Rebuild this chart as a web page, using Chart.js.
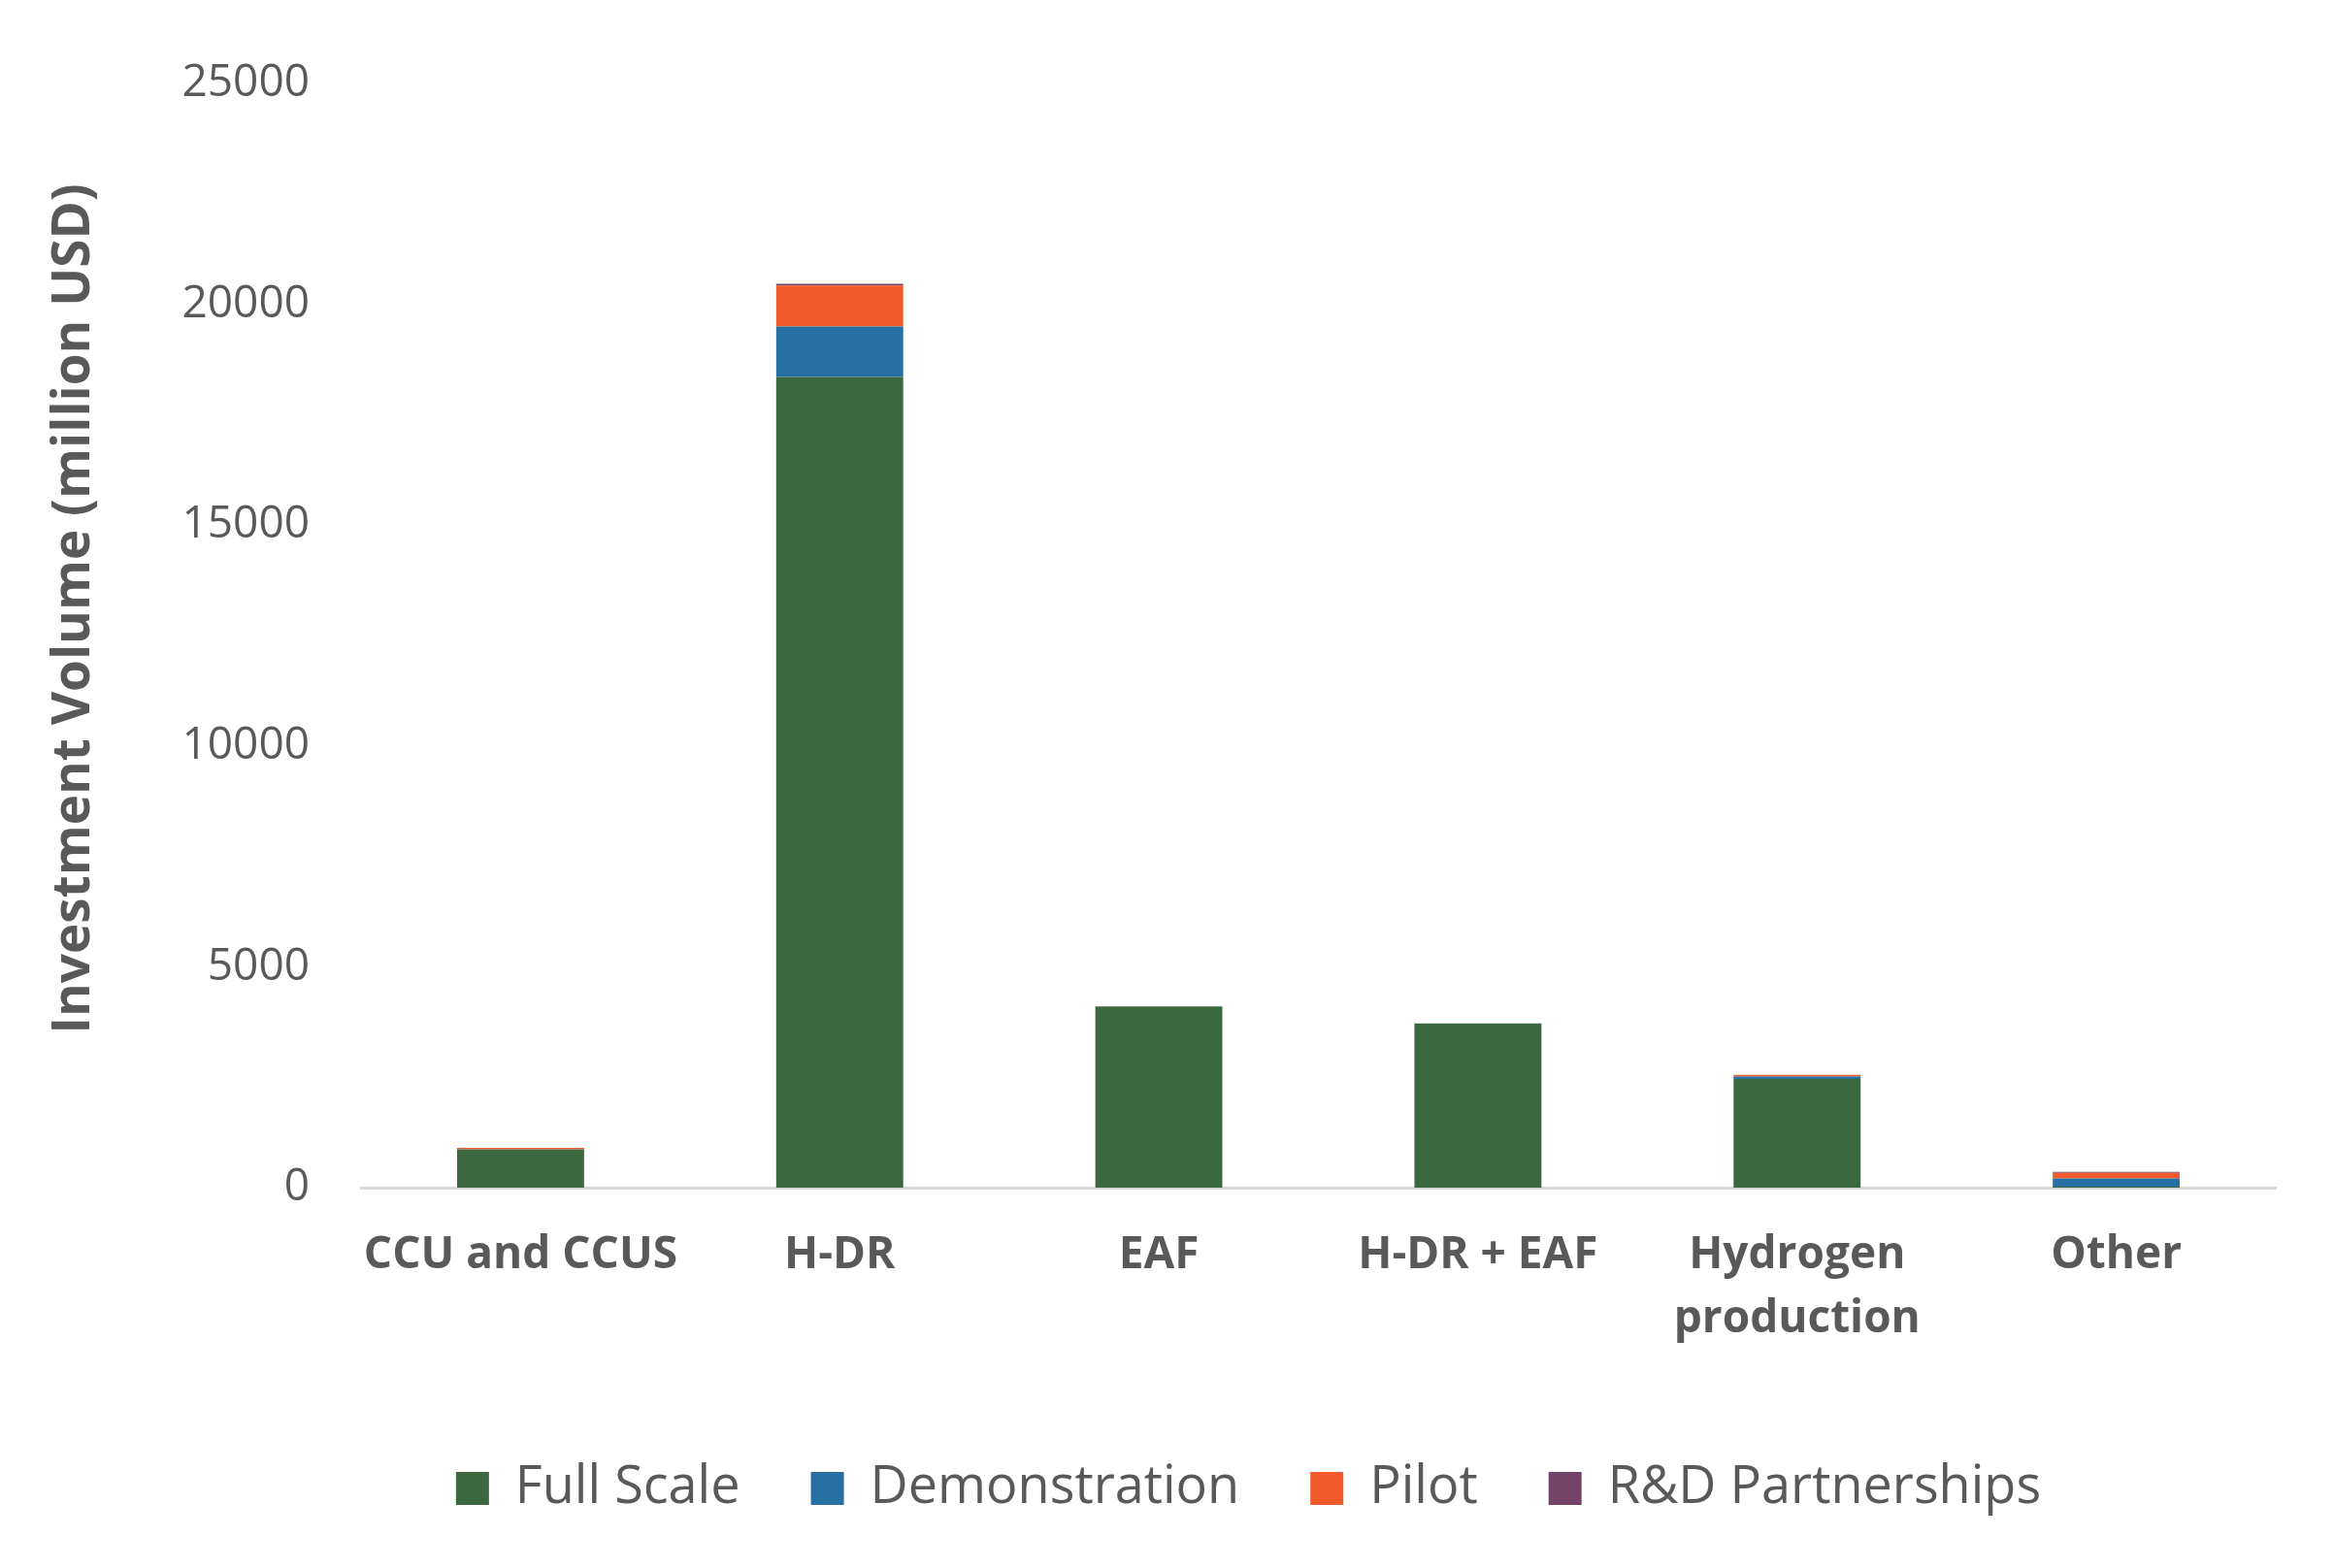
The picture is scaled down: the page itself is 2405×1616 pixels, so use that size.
<!DOCTYPE html>
<html>
<head>
<meta charset="utf-8">
<script src="https://cdn.jsdelivr.net/npm/chart.js@4/dist/chart.umd.min.js"></script>
<style>
  html, body { margin: 0; padding: 0; background: #fff; }
  canvas { display: block; }
</style>
</head>
<body>
<canvas id="investChart" width="2405" height="1616"></canvas>
<script>
const categories = ['CCU and CCUS', 'H-DR', 'EAF', 'H-DR + EAF', ['Hydrogen', 'production'], 'Other'];

// million USD
const fullScale     = [866, 18356, 4100, 3720, 2461, 20];
const demonstration = [0, 1139, 0, 0, 57, 190];
const pilot         = [37, 932, 0, 0, 37, 125];
const rdPartners    = [0, 37, 0, 0, 0, 22];

const yTicks = [0, 5000, 10000, 15000, 20000, 25000];

const textColor = '#595959';
const FONT = '"Open Sans", "Liberation Sans", sans-serif';

const ctx = document.getElementById('investChart').getContext('2d');

const chartConfig = {
    type: 'bar',
    data: {
        labels: categories,
        datasets: [
            { label: 'Full Scale', data: fullScale, backgroundColor: '#3b683e' },
            { label: 'Demonstration', data: demonstration, backgroundColor: '#2670a4' },
            { label: 'Pilot', data: pilot, backgroundColor: '#f15b2b' },
            { label: 'R&D Partnerships', data: rdPartners, backgroundColor: '#744468' }
        ]
    },
    options: {
        responsive: false,
        animation: false,
        layout: {
            padding: { top: 86, left: 168, right: 0, bottom: 45 }
        },
        datasets: {
            bar: { categoryPercentage: 1, barPercentage: 0.398 }
        },
        plugins: {
            tooltip: { enabled: false },
            legend: {
                position: 'bottom',
                labels: {
                    color: textColor,
                    font: { family: FONT, size: 54 },
                    boxWidth: 34,
                    boxHeight: 34,
                    padding: 73
                }
            }
        },
        scales: {
            x: {
                stacked: true,
                grid: { display: true, drawOnChartArea: false, drawTicks: false },
                border: { display: true, color: '#d9d9d9', width: 3 },
                ticks: {
                    color: textColor,
                    font: { family: FONT, size: 46, weight: 'bold', lineHeight: 1.43 },
                    padding: 37,
                    maxRotation: 0,
                    autoSkip: false
                },
                afterFit: (scale) => { scale.height = 210; }
            },
            y: {
                stacked: true,
                min: 0,
                max: 25000,
                afterBuildTicks: (scale) => { scale.ticks = yTicks.map(v => ({ value: v })); },
                grid: { display: false, drawTicks: false },
                border: { display: false },
                ticks: {
                    color: textColor,
                    font: { family: FONT, size: 46 },
                    padding: 53,
                    callback: (v) => String(v)
                },
                title: {
                    display: true,
                    text: '    Investment Volume (million USD)',
                    color: textColor,
                    font: { family: FONT, size: 53, weight: 'bold' },
                    padding: { top: -123, bottom: 0 }
                },
                afterFit: (scale) => { scale.width = 204; }
            },
            // empty right-hand spacer so the legend centres like the original
            yRight: {
                position: 'right',
                grid: { display: false, drawTicks: false },
                border: { display: false },
                ticks: { display: false },
                afterFit: (scale) => { scale.width = 60; }
            }
        }
    }
};

const investChart = new Chart(ctx, chartConfig);
</script>
</body>
</html>
